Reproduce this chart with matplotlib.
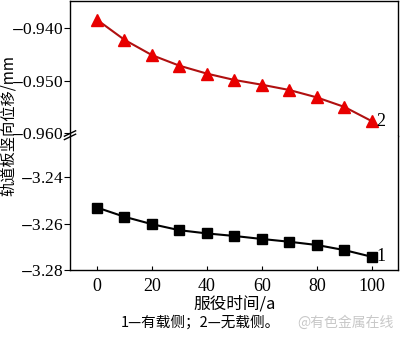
import numpy as np
import matplotlib.pyplot as plt

plt.rcParams['font.family'] = ['Liberation Serif', 'Noto Sans CJK SC']
plt.rcParams['mathtext.fontset'] = 'stix'

# service time (a)
t = [0, 10, 20, 30, 40, 50, 60, 70, 80, 90, 100]
# vertical displacement of track slab (mm)
loaded = [-3.2530, -3.2570, -3.2602, -3.2628, -3.2642, -3.2653,
          -3.2666, -3.2678, -3.2692, -3.2714, -3.2743]
unloaded = [-0.9385, -0.9423, -0.9452, -0.9472, -0.9487, -0.9499,
            -0.9508, -0.9518, -0.9532, -0.9550, -0.9577]
xticks = [0, 20, 40, 60, 80, 100]
yticks_top = [-0.940, -0.950, -0.960]
yticks_bot = [-3.24, -3.26, -3.28]

fig = plt.figure(figsize=(4.0, 3.38), dpi=100)
ax1 = fig.add_axes([0.175, 0.5976, 0.82, 0.4004])
ax2 = fig.add_axes([0.175, 0.2012, 0.82, 0.3964])

ax1.plot(t, unloaded, color='#b01010', lw=1.5, marker='^', ms=8,
         mfc='#e80000', mec='#e80000')
ax2.plot(t, loaded, color='black', lw=1.5, marker='s', ms=6.5)

ax1.set_ylim(-0.9605, -0.9349)
ax2.set_ylim(-3.28, -3.2221)
for ax in (ax1, ax2):
    ax.set_xlim(-9.8, 109.5)
    for s in ax.spines.values():
        s.set_linewidth(1.0)
ax1.spines['bottom'].set_visible(False)
ax2.spines['top'].set_visible(False)

ax1.set_yticks(yticks_top)
ax1.set_yticklabels(['$-$%.3f' % abs(v) for v in yticks_top])
ax2.set_yticks(yticks_bot)
ax2.set_yticklabels(['$-$%.2f' % abs(v) for v in yticks_bot])
ax1.set_xticks([])
ax2.set_xticks(xticks)
ax1.tick_params(axis='y', direction='out', length=4, labelsize=12.5, pad=0.5)
ax2.tick_params(axis='y', direction='out', length=4, labelsize=12.5, pad=0.5)
ax2.tick_params(axis='x', direction='in', length=3, labelsize=13, pad=6)

# break mark on the left axis
kw = dict(transform=fig.transFigure, color='black', lw=1.0, clip_on=False)
x0 = 0.175
y0 = 0.600
for dy in (-0.005, 0.005):
    fig.add_artist(plt.Line2D([x0 - 0.014, x0 + 0.014], [y0 + dy - 0.008, y0 + dy + 0.008], **kw))

ax1.text(101.5, unloaded[-1], '2', fontsize=13, va='center', ha='left')
ax2.text(101.5, loaded[-1], '1', fontsize=13, va='center', ha='left')

fig.text(0.02, 0.63, '轨道板竖向位移/mm', rotation=90, fontsize=11,
         ha='center', va='center', family=['Noto Sans CJK SC'])
fig.text(0.587, 0.10, '服役时间/a', fontsize=12, ha='center', va='center',
         family=['Noto Sans CJK SC', 'Liberation Serif'])
fig.text(0.502, 0.045, '1—有载侧；2—无载侧。', fontsize=10.5, ha='center',
         va='center', family=['Noto Sans CJK SC'])
fig.text(0.863, 0.045, '@有色金属在线', fontsize=10, ha='center', va='center',
         color='#c8c8c8', family=['Noto Sans CJK SC'])

plt.savefig('out.png', dpi=100)
